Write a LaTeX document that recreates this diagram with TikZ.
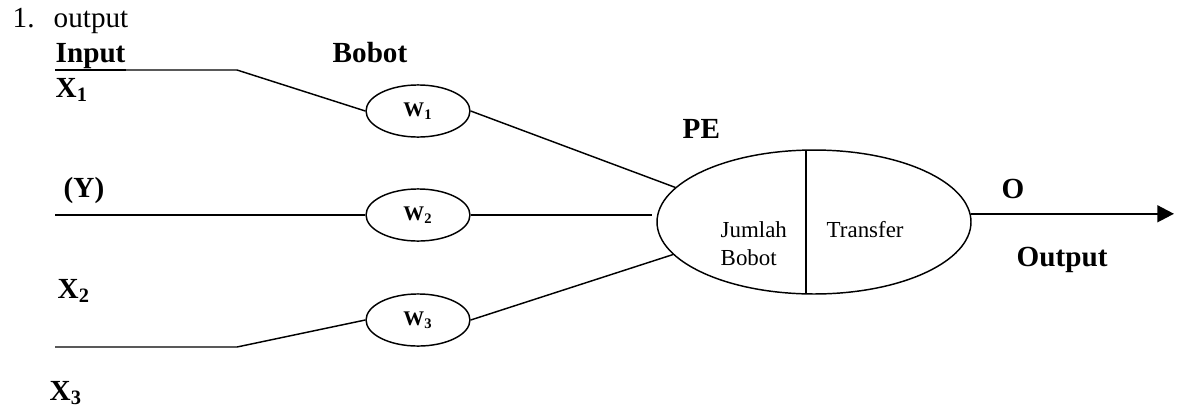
\documentclass[tikz,border=0pt]{standalone}
\usepackage{fontspec}
\setmainfont{Liberation Serif}
\usetikzlibrary{shapes.geometric,arrows.meta}

\tikzset{
	lbl/.style={anchor=base west, inner sep=0pt, font=\bfseries\fontsize{14}{16}\selectfont},
	plain/.style={anchor=base west, inner sep=0pt, font=\fontsize{14}{16}\selectfont},
	petext/.style={anchor=base west, inner sep=0pt, font=\fontsize{11}{13}\selectfont},
	wnode/.style={draw, ellipse, minimum width=49.9pt, minimum height=25pt, inner sep=0pt, font=\bfseries\fontsize{10}{12}\selectfont}
}

\begin{document}
\begin{tikzpicture}[x=0.48pt, y=-0.48pt, line width=0.7pt]
		\useasboundingbox (0,0) rectangle (1178,407);
		
		\node[plain] (num) at (12,27) {1.};
		\node[plain] (head) at (53,27) {output};
		\node[lbl] (input) at (55,62) {Input};
		\node[lbl] (bobot) at (332,62) {Bobot};
		\node[lbl] (x1) at (55,97) {X\textsubscript{1}};
		\node[lbl] (y) at (63,197) {(Y)};
		\node[lbl] (x2) at (57,298) {X\textsubscript{2}};
		\node[lbl] (x3) at (49,400) {X\textsubscript{3}};
		\node[lbl] (pe label) at (682,138) {PE};
		\node[lbl] (o) at (1001,198) {O};
		\node[lbl] (output) at (1016,266) {Output};
		
		\node[wnode] (w1) at (418,111) {W\textsubscript{1}};
		\node[wnode] (w2) at (418,215) {W\textsubscript{2}};
		\node[wnode] (w3) at (418,320) {W\textsubscript{3}};
		
		\node[draw, ellipse, minimum width=150.7pt, minimum height=69.1pt, inner sep=0pt] (pe) at (814,222) {};
		\node[petext] (jumlah) at (720,237) {Jumlah};
		\node[petext] (jbobot) at (720,265) {Bobot};
		\node[petext] (transfer) at (826,237) {Transfer};
		
		\coordinate (a1) at (55,70);
		\coordinate (b1) at (237,70);
		\coordinate (a2) at (55,215);
		\coordinate (a3) at (55,347);
		\coordinate (b3) at (237,347);
		\coordinate (top) at (806,150);
		\coordinate (bot) at (806,294);
		\coordinate (out) at (1174,215);
		
		\draw (a1) -- (b1) -- (w1.west);
		\draw[line width=1.1pt] (a1) -- (a1 -| input.east);
		\draw (a2) -- (w2.west);
		\draw (a3) -- (b3) -- (w3.west);
		
		\draw (w1.east) -- (pe.166);
		\draw[shorten >=2.2pt] (w2.east) -- (w2.east -| pe.west);
		\draw (w3.east) -- (pe.193);
		
		\draw (top) -- (bot);
		\draw[line width=1.2pt, -{Triangle[length=8pt, width=8pt]}] (pe.3) -- (pe.3 -| out);
\end{tikzpicture}
\end{document}
